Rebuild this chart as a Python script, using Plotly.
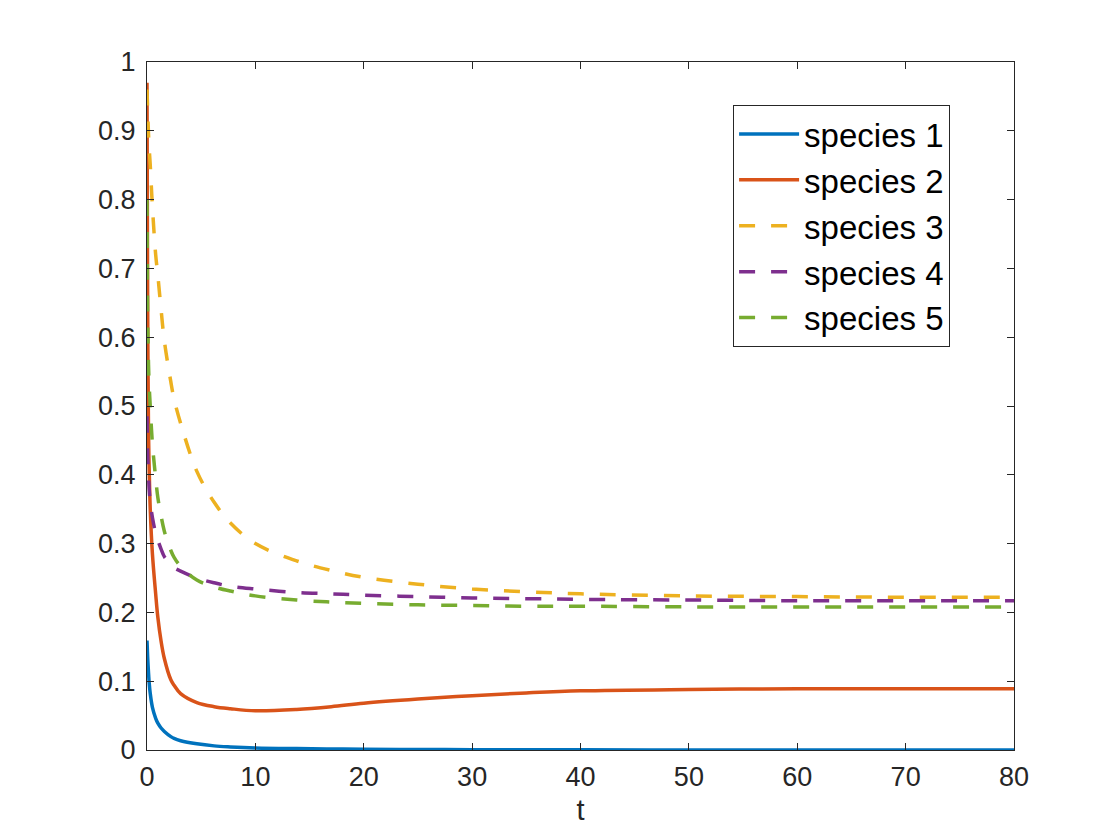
import plotly.graph_objects as go

# time points (denser near t=0 where the curves drop)
t = [0, 0.03, 0.06, 0.14, 0.2, 0.3, 0.5, 0.8, 1.0, 1.3, 1.6, 2.2, 2.5, 3.1,
     4.6, 6.2, 7.7, 10, 13.8, 17, 20, 25, 30, 35, 40, 50, 60, 70, 80]

species1 = [0.159, 0.147, 0.135, 0.112, 0.098, 0.082, 0.062, 0.046, 0.039,
            0.032, 0.027, 0.0195, 0.0168, 0.0135, 0.009, 0.006, 0.0045, 0.003,
            0.002, 0.0015, 0.001, 0.0007, 0.0005, 0.0003, 0.0002, 0.0001, 0, 0, 0]
species2 = [0.97, 0.8, 0.65, 0.46, 0.41, 0.35, 0.285, 0.227, 0.193, 0.158, 0.133,
            0.102, 0.094, 0.082, 0.069, 0.063, 0.060, 0.057, 0.059, 0.063, 0.068,
            0.074, 0.079, 0.083, 0.086, 0.088, 0.089, 0.089, 0.089]
species3 = [0.96, 0.945, 0.93, 0.895, 0.875, 0.85, 0.79, 0.72, 0.69, 0.64, 0.595,
            0.535, 0.51, 0.475, 0.405, 0.36, 0.33, 0.30, 0.275, 0.261, 0.251,
            0.241, 0.234, 0.230, 0.227, 0.224, 0.223, 0.222, 0.222]
species4 = [0.485, 0.455, 0.43, 0.40, 0.38, 0.36, 0.338, 0.315, 0.305, 0.292,
            0.281, 0.27, 0.265, 0.26, 0.25, 0.243, 0.238, 0.234, 0.229, 0.227,
            0.225, 0.223, 0.221, 0.220, 0.219, 0.218, 0.217, 0.217, 0.217]
species5 = [0.80, 0.70, 0.63, 0.56, 0.53, 0.50, 0.445, 0.395, 0.367, 0.34, 0.318,
            0.29, 0.28, 0.267, 0.247, 0.237, 0.231, 0.224, 0.218, 0.215, 0.213,
            0.211, 0.210, 0.209, 0.209, 0.208, 0.208, 0.208, 0.208]

names = ['species 1', 'species 2', 'species 3', 'species 4', 'species 5']
colors = ['#0072BD', '#D95319', '#EDB120', '#7E2F8E', '#77AC30']
dashes = ['solid', 'solid', '16px,16px', '16px,16px', '16px,16px']

fig = go.Figure()
for y, name, color, dash in zip([species1, species2, species3, species4, species5],
                                names, colors, dashes):
    fig.add_trace(go.Scatter(x=t, y=y, mode='lines', name=name,
                             line=dict(color=color, width=3.5, dash=dash,
                                       shape='spline', smoothing=1.0)))

axis_style = dict(showline=True, linecolor='#262626', linewidth=1, mirror='ticks',
                  ticks='inside', ticklen=7, tickcolor='#262626', showgrid=False,
                  zeroline=False, tickfont=dict(size=27, color='#262626'))

fig.update_layout(
    width=1120, height=840,
    margin=dict(l=139, r=114, t=54, b=98),
    paper_bgcolor='white', plot_bgcolor='white',
    font=dict(family='Liberation Sans, Arial, sans-serif', color='#262626'),
    xaxis=dict(range=[0, 80], dtick=10, ticklabelstandoff=3,
               title=dict(text='t', font=dict(size=29), standoff=8),
               **axis_style),
    yaxis=dict(range=[0, 1], dtick=0.1, ticklabelstandoff=5, **axis_style),
    legend=dict(x=0.676, y=0.9375, xanchor='left', yanchor='top',
                bordercolor='#262626', borderwidth=1, bgcolor='white',
                font=dict(size=33, color='black'), itemwidth=60),
)

fig.write_html("out.html")
